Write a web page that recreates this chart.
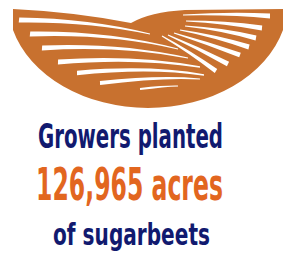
<!DOCTYPE html>
<html>
<head>
<meta charset="utf-8">
<script src="https://cdn.jsdelivr.net/npm/d3@7"></script>
<style>
  body { margin: 0; background: #fff; }
  svg { display: block; }
</style>
</head>
<body>
<div id="chart-container"></div>
<script>
// content of the infographic
const acres = 126965;
const lineTexts = ["Growers planted", acres, "of sugarbeets"];
const lineRoles = ["label", "value", "label"];

const width = 291;
const height = 254;

const svg = d3
  .select("#chart-container")
  .append("svg")
  .attr("width", width)
  .attr("height", height);

// field icon: a bowl shaped hill with white furrows
const iconColor = "#c8712f";
const icon = svg.append("g");

icon
  .append("path")
  .attr(
    "d",
    "M13,9 Q75,12 131,23 Q150,12 185,10 L283,9 L283,30 A140,106 0 0 1 13,30 Z"
  )
  .attr("fill", iconColor);

// tapered stripe between two points with a bend
function stripe(p0, c, p1, w0, w1) {
  const dx = p1[0] - p0[0];
  const dy = p1[1] - p0[1];
  const len = Math.hypot(dx, dy);
  const nx = -dy / len;
  const ny = dx / len;
  const wc = (w0 + w1) / 2;
  const p = d3.path();
  p.moveTo(p0[0] + (nx * w0) / 2, p0[1] + (ny * w0) / 2);
  p.quadraticCurveTo(c[0] + (nx * wc) / 2, c[1] + (ny * wc) / 2, p1[0] + (nx * w1) / 2, p1[1] + (ny * w1) / 2);
  p.lineTo(p1[0] - (nx * w1) / 2, p1[1] - (ny * w1) / 2);
  p.quadraticCurveTo(c[0] - (nx * wc) / 2, c[1] - (ny * wc) / 2, p0[0] - (nx * w0) / 2, p0[1] - (ny * w0) / 2);
  p.closePath();
  return p.toString();
}

// left hill furrows
const leftFurrows = [
  [[19, 20], [90, 20], [150, 34], 5, 1],
  [[30, 34], [110, 32], [178, 49], 5, 1],
  [[42, 48], [120, 44], [188, 58], 5, 1],
  [[58, 62], [135, 56], [200, 67], 5, 1.5],
  [[77, 73], [150, 66], [204, 75], 4.5, 1.5],
  [[100, 83], [160, 76], [200, 79], 4, 1],
  [[140, 89], [165, 86], [178, 86], 2, 0.8]
];
// right hill furrows fanning out
const rightFurrows = [
  [[183, 15], [230, 13], [270, 16], 1, 5],
  [[186, 21], [225, 22], [262, 28], 1, 5],
  [[185, 26], [222, 29], [256, 38], 1, 5],
  [[180, 30], [215, 36], [249, 47], 1, 5],
  [[174, 33], [207, 43], [240, 55], 1, 5],
  [[168, 35], [198, 48], [228, 64], 1, 5],
  [[162, 36], [190, 52], [216, 71], 1, 4.5]
];

icon
  .selectAll("path.furrow")
  .data(leftFurrows.concat(rightFurrows))
  .join("path")
  .attr("class", "furrow")
  .attr("d", (d) => stripe(d[0], d[1], d[2], d[3], d[4]))
  .attr("fill", "#fff");

// text block, squeezed horizontally to a condensed look
const fmt = d3.format(",");
const textFont = "'DejaVu Sans', sans-serif";
const textLayout = [
  { x: 130.5, y: 148, size: 34, len: 185 },
  { x: 129.5, y: 200, size: 45, len: 187 },
  { x: 131.5, y: 245, size: 31, len: 157 }
];

const lines = svg
  .selectAll("text.line")
  .data(lineTexts)
  .join("text")
  .attr("class", "line")
  .attr("x", 0)
  .attr("y", 0)
  .attr("text-anchor", "middle")
  .style("font-family", textFont)
  .style("font-weight", "bold")
  .style("font-size", (d, i) => `${textLayout[i].size}px`)
  .style("fill", (d, i) => (lineRoles[i] === "value" ? "#e2661f" : "#111a6f"))
  .text((d, i) => (lineRoles[i] === "value" ? `${fmt(d)} acres` : d));

lines.attr("transform", function (d, i) {
  const l = textLayout[i];
  const natural = this.getComputedTextLength();
  return `translate(${l.x},${l.y}) scale(${l.len / natural},1)`;
});
</script>
</body>
</html>
